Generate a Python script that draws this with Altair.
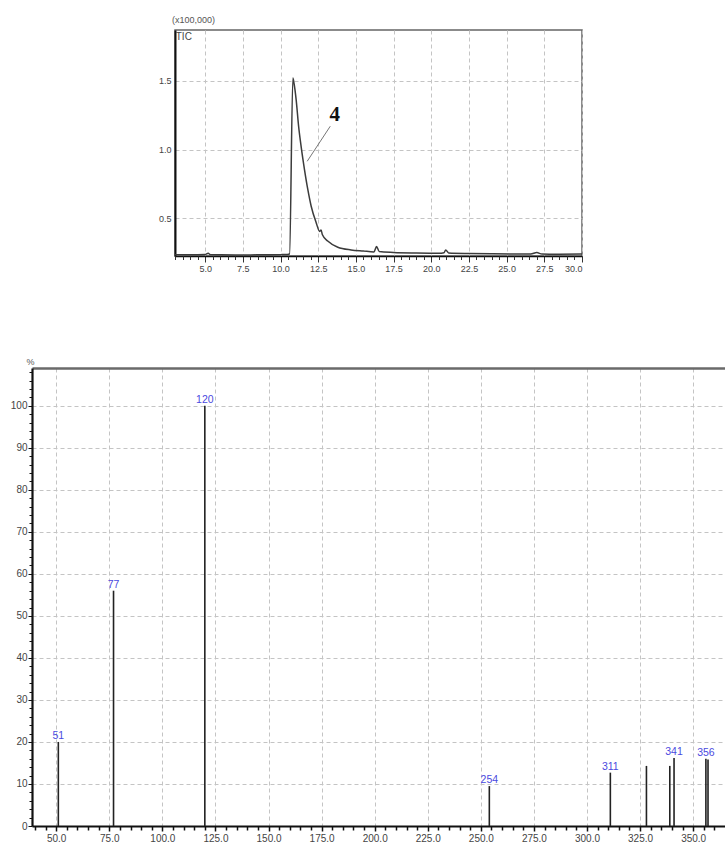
import altair as alt
import pandas as pd

# ---------------- chromatogram (top) ----------------
rt_min = [3.0, 4.0, 5.0, 5.2, 5.35, 6.0, 7.0, 8.0, 9.0, 10.0, 10.45, 10.6,
          10.82, 10.9, 11.04, 11.2, 11.37, 11.59, 11.81, 12.03, 12.36, 12.6,
          12.69, 12.78, 13.13, 13.8, 14.68, 15.5, 16.2, 16.37, 16.55, 17.5,
          19.0, 20.5, 20.85, 20.96, 21.15, 22.5, 24.0, 26.6, 27.0, 27.35,
          28.5, 30.0]
tic_x1e5 = [0.236, 0.235, 0.237, 0.246, 0.236, 0.235, 0.234, 0.234, 0.235,
            0.236, 0.237, 0.24, 1.52, 1.48, 1.36, 1.17, 1.02, 0.855, 0.71,
            0.59, 0.47, 0.405, 0.415, 0.38, 0.335, 0.29, 0.27, 0.262, 0.256,
            0.295, 0.258, 0.252, 0.248, 0.246, 0.25, 0.27, 0.248, 0.244,
            0.242, 0.24, 0.251, 0.24, 0.239, 0.24]

top_major_ticks = [5.0, 7.5, 10.0, 12.5, 15.0, 17.5, 20.0, 22.5, 25.0, 27.5, 30.0]
top_minor_ticks = [3.0, 3.5, 4.0, 4.5, 5.5, 6.0, 6.5, 7.0, 8.0, 8.5, 9.0, 9.5,
                   10.5, 11.0, 11.5, 12.0, 13.0, 13.5, 14.0, 14.5, 15.5, 16.0,
                   16.5, 17.0, 18.0, 18.5, 19.0, 19.5, 20.5, 21.0, 21.5, 22.0,
                   23.0, 23.5, 24.0, 24.5, 25.5, 26.0, 26.5, 27.0, 28.0, 28.5,
                   29.0, 29.5]
top_y_ticks = [0.5, 1.0, 1.5]

# annotation "4" and its leader line (data coordinates)
ann_text = ["4"]
ann_x = [13.6]
ann_y = [1.25]
lead_x = [13.3]
lead_y = [1.17]
lead_x2 = [11.77]
lead_y2 = [0.915]

# ---------------- mass spectrum (bottom) ----------------
mz = [51, 77, 120, 254, 311, 328, 339, 341, 356, 357]
rel_int = [20.0, 56.0, 100.0, 9.5, 12.7, 14.3, 14.3, 16.2, 16.0, 15.8]
peak_labels = ["51", "77", "120", "254", "311", "", "", "341", "356", ""]

ms_major_x = [50, 75, 100, 125, 150, 175, 200, 225, 250, 275, 300, 325, 350]
ms_minor_x = [40, 45, 55, 60, 65, 70, 80, 85, 90, 95, 105, 110, 115, 120,
              130, 135, 140, 145, 155, 160, 165, 170, 180, 185, 190, 195,
              205, 210, 215, 220, 230, 235, 240, 245, 255, 260, 265, 270,
              280, 285, 290, 295, 305, 310, 315, 320, 330, 335, 340, 345,
              355, 360]
ms_major_y = [0, 10, 20, 30, 40, 50, 60, 70, 80, 90, 100]
ms_minor_y = [2, 4, 6, 8, 12, 14, 16, 18, 22, 24, 26, 28, 32, 34, 36, 38,
              42, 44, 46, 48, 52, 54, 56, 58, 62, 64, 66, 68, 72, 74, 76, 78,
              82, 84, 86, 88, 92, 94, 96, 98, 102, 104, 106, 108]

FONT = "Liberation Sans"
GRID = dict(grid=True, gridDash=[4, 3], gridColor="#c4c4c4", gridWidth=1)

# ---------- top chart ----------
chrom = pd.DataFrame({"t": rt_min, "v": tic_x1e5})
tx = alt.Scale(domain=[3.0, 30.0], nice=False, zero=False)
ty = alt.Scale(domain=[0.226, 1.87], nice=False, zero=False)

line = alt.Chart(chrom).mark_line(color="#3c3c3c", strokeWidth=1.5,
                                  interpolate="monotone").encode(
    x=alt.X("t:Q", scale=tx, title=None,
            axis=alt.Axis(values=top_major_ticks, format=".1f", tickSize=6,
                          tickColor="#333", domainColor="#111", domainWidth=1.5,
                          labelFont=FONT, labelFontSize=9, labelColor="#444",
                          labelPadding=2, labelFlush=True, **GRID)),
    y=alt.Y("v:Q", scale=ty, title=None,
            axis=alt.Axis(values=top_y_ticks, format=".1f", ticks=False,
                          domainColor="#111", domainWidth=2,
                          labelFont=FONT, labelFontSize=9, labelColor="#444",
                          labelPadding=4, **GRID)),
)

top_minor = alt.Chart(pd.DataFrame({"t": top_minor_ticks, "v": [0.3] * len(top_minor_ticks)})).mark_point(opacity=0).encode(
    x=alt.X("t:Q", scale=tx, title=None,
            axis=alt.Axis(values=top_minor_ticks, labels=False, grid=False,
                          domain=False, tickSize=3.5, tickColor="#333",
                          orient="bottom")),
    y=alt.Y("v:Q", scale=ty, axis=None),
)

ann_df = pd.DataFrame({"x": lead_x, "y": lead_y, "x2": lead_x2, "y2": lead_y2})
leader = alt.Chart(ann_df).mark_rule(color="#777", strokeWidth=1).encode(
    x=alt.X("x:Q", scale=tx, axis=None), y=alt.Y("y:Q", scale=ty, axis=None),
    x2="x2:Q", y2="y2:Q")

num_df = pd.DataFrame({"x": ann_x, "y": ann_y, "s": ann_text})
num = alt.Chart(num_df).mark_text(font="Liberation Serif", fontWeight="bold",
                                  fontSize=21, color="#111").encode(
    x=alt.X("x:Q", scale=tx, axis=None), y=alt.Y("y:Q", scale=ty, axis=None),
    text="s:N")

tic_df = pd.DataFrame({"x": [3.05], "y": [1.87], "s": ["TIC"]})
tic = alt.Chart(tic_df).mark_text(font=FONT, fontSize=10, color="#444",
                                  align="left", baseline="top", dy=2).encode(
    x=alt.X("x:Q", scale=tx, axis=None), y=alt.Y("y:Q", scale=ty, axis=None),
    text="s:N")

top = alt.layer(line, top_minor, leader, num, tic).resolve_axis(
    x="independent", y="independent"
).properties(
    width=407, height=226,
    title=alt.TitleParams("(x100,000)", anchor="start", frame="group",
                          fontSize=9, font=FONT, color="#555",
                          fontWeight="normal", offset=5, dx=-3),
    view=alt.ViewBackground(stroke="#666", strokeWidth=1.5),
)

# ---------- bottom chart ----------
ms = pd.DataFrame({"mz": mz, "i": rel_int, "lab": peak_labels})
sx = alt.Scale(domain=[38.6, 365.0], nice=False, zero=False)
sy = alt.Scale(domain=[0, 109], nice=False)

bars = alt.Chart(ms).mark_rule(color="#222", strokeWidth=1.6).encode(
    x=alt.X("mz:Q", scale=sx, title=None,
            axis=alt.Axis(values=ms_major_x, format=".1f", tickSize=5,
                          tickWidth=1.5, tickColor="#111", domainColor="#111",
                          domainWidth=2.2, labelFont=FONT, labelFontSize=10,
                          labelColor="#444", labelPadding=2, **GRID)),
    y=alt.Y("i:Q", scale=sy,
            axis=alt.Axis(values=ms_major_y, tickSize=4, tickColor="#111",
                          domainColor="#111", domainWidth=2.2,
                          labelFont=FONT, labelFontSize=10, labelColor="#444",
                          labelPadding=1, minExtent=22, maxExtent=22,
                          title="%", titleAngle=0,
                          titleFont=FONT, titleFontSize=9, titleColor="#555",
                          titleFontWeight="normal", titleX=-2, titleY=-7,
                          titleAlign="center", titleBaseline="middle",
                          **GRID)),
    y2=alt.datum(0),
)

peak_text = alt.Chart(ms).transform_filter(alt.datum.lab != "").mark_text(
    font=FONT, fontSize=10.5, color="#4a4ae0", baseline="bottom", dy=-1
).encode(
    x=alt.X("mz:Q", scale=sx, axis=None), y=alt.Y("i:Q", scale=sy, axis=None),
    text="lab:N")

minor_df = pd.DataFrame({"x": ms_minor_x, "y": [5] * len(ms_minor_x)})
ms_minor = alt.Chart(minor_df).mark_point(opacity=0).encode(
    x=alt.X("x:Q", scale=sx, title=None,
            axis=alt.Axis(values=ms_minor_x, labels=False, grid=False,
                          domain=False, tickSize=4, tickWidth=1.5,
                          tickColor="#111", orient="bottom")),
    y=alt.Y("y:Q", scale=sy, title=None,
            axis=alt.Axis(values=ms_minor_y, labels=False, grid=False,
                          domain=False, tickSize=3, tickColor="#111",
                          orient="left")),
)
ms_topline = alt.Chart(pd.DataFrame({"x": [50], "y": [5]})).mark_point(opacity=0).encode(
    x=alt.X("x:Q", scale=sx, title=None,
            axis=alt.Axis(orient="top", labels=False, ticks=False, grid=False,
                          domainColor="#6a6a6a", domainWidth=2.5)),
    y=alt.Y("y:Q", scale=sy, axis=None),
)

bottom = alt.layer(bars, peak_text, ms_minor, ms_topline).resolve_axis(
    x="independent", y="independent"
).properties(width=693, height=458, view=alt.ViewBackground(stroke=None))

chart = alt.vconcat(top, bottom, spacing=112, center=True, bounds="flush").properties(
    padding={"left": 10, "top": 15, "right": 0, "bottom": 0},
    background="white",
).configure_view(stroke=None)

chart.save("out.html", embed_options={"renderer": "svg", "actions": False})
